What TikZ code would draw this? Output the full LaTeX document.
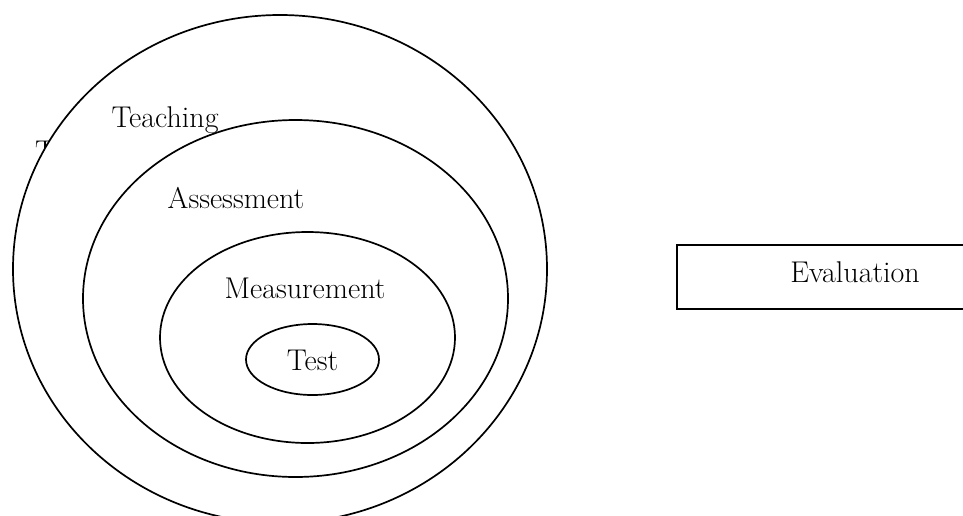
\documentclass[tikz,border=0pt]{standalone}
\usetikzlibrary{shapes.geometric}
\begin{document}
\begin{tikzpicture}[x=1pt,y=-1pt,
  ring/.style={ellipse,draw=black,fill=white,line width=1.7pt,inner sep=0pt,outer sep=0pt},
  lbl/.style={inner sep=0pt,anchor=base,font=\fontsize{30}{34}\selectfont},
  box/.style={draw=black,line width=1.7pt,inner sep=0pt,outer sep=0pt,anchor=west}]
\useasboundingbox (0,0) rectangle (963,515);
\clip (0,0) rectangle (963,515);
\node[lbl,anchor=base west] (tpart) at (35,161) {T};
\node[ring,minimum width=534pt,minimum height=508pt] (teachring) at (280,269) {};
\node[ring,minimum width=425pt,minimum height=357pt] (assessring) at (295.5,298.5) {};
\node[ring,minimum width=295pt,minimum height=211pt] (measring) at (307.5,337.5) {};
\node[ring,minimum width=133pt,minimum height=71pt] (testring) at (312.5,359.5) {};
\node[lbl] (teaching) at (165,127) {Teaching};
\node[lbl] (assessment) at (236,208) {Assessment};
\node[lbl] (measurement) at (305,298) {Measurement};
\node[lbl] (test) at (312.5,370) {Test};
\node[box,minimum width=330pt,minimum height=64pt] (evalbox) at (677,277) {};
\node[lbl] (evaluation) at (855,282.5) {Evaluation};
\end{tikzpicture}
\end{document}
